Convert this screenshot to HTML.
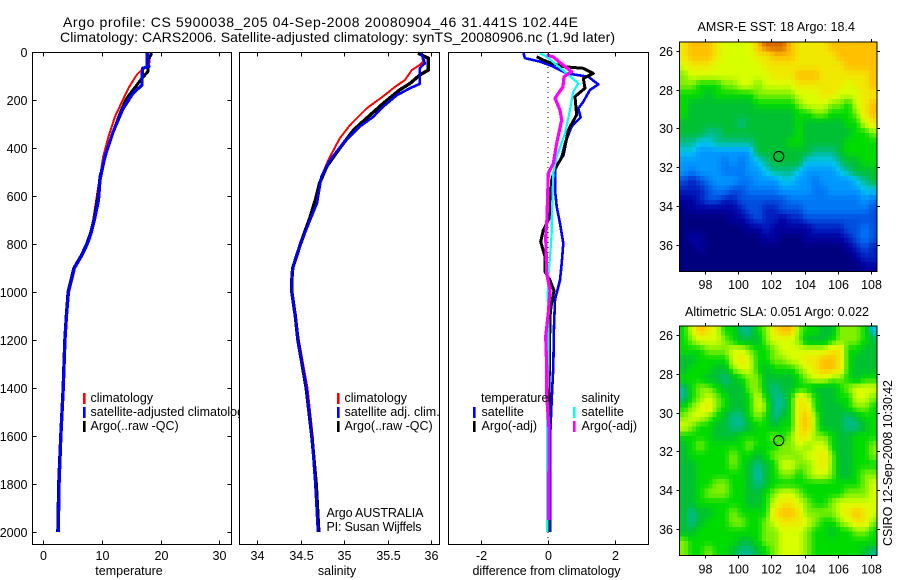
<!DOCTYPE html>
<html lang="en">
<head>
<meta charset="utf-8">
<title>Argo profile CS 5900038_205</title>
<style>
html,body{margin:0;padding:0;background:#fff;width:900px;height:580px;overflow:hidden}
svg{display:block}
text{font-family:"Liberation Sans",sans-serif;fill:#000;font-size:12.5px}
.ttl{font-size:14px}
</style>
</head>
<body>
<svg id="fig" xmlns="http://www.w3.org/2000/svg" width="900" height="580" viewBox="0 0 900 580">
<rect width="900" height="580" fill="#fff"/>
<text class="ttl" x="63" y="27" textLength="515">Argo profile: CS 5900038_205 04-Sep-2008 20080904_46 31.441S 102.44E</text>
<text class="ttl" x="60" y="42" textLength="555">Climatology: CARS2006. Satellite-adjusted climatology: synTS_20080906.nc (1.9d later)</text>

<g id="p1">
<rect x="32.5" y="52.5" width="199" height="492" fill="#fff"/>
<g id="p1-marks"></g>
<rect x="32.5" y="52.5" width="199" height="492" fill="none" stroke="#000"/>
<g id="p1-ticks"></g>
<text x="129" y="575" text-anchor="middle">temperature</text>
<g>
<rect x="83" y="393" width="2.6" height="11" fill="#ff0000"/>
<rect x="83" y="407" width="2.6" height="11" fill="#0000ff"/>
<rect x="83" y="421" width="2.6" height="11" fill="#000"/>
<text x="90.5" y="402">climatology</text>
<text x="90.5" y="416">satellite-adjusted climatology</text>
<text x="90.5" y="430">Argo(..raw -QC)</text>
</g>
</g>

<g id="p2">
<rect x="239.5" y="52.5" width="200" height="492" fill="#fff"/>
<g id="p2-marks"></g>
<rect x="239.5" y="52.5" width="200" height="492" fill="none" stroke="#000"/>
<g id="p2-ticks"></g>
<text x="337" y="575" text-anchor="middle">salinity</text>
<g>
<rect x="337" y="393" width="2.6" height="11" fill="#ff0000"/>
<rect x="337" y="407" width="2.6" height="11" fill="#0000ff"/>
<rect x="337" y="421" width="2.6" height="11" fill="#000"/>
<text x="344.5" y="402">climatology</text>
<text x="344.5" y="416">satellite adj. clim.</text>
<text x="344.5" y="430">Argo(..raw -QC)</text>
</g>
<text x="326.5" y="517" textLength="97">Argo AUSTRALIA</text>
<text x="326.5" y="531" textLength="95">PI: Susan Wijffels</text>
</g>

<g id="p3">
<rect x="448.5" y="52.5" width="200" height="492" fill="#fff"/>
<g id="p3-marks"></g>
<rect x="448.5" y="52.5" width="200" height="492" fill="none" stroke="#000"/>
<g id="p3-ticks"></g>
<text x="546.5" y="575" text-anchor="middle" textLength="148">difference from climatology</text>
<g>
<text x="481" y="402">temperature</text>
<text x="581.5" y="402">salinity</text>
<rect x="473" y="407" width="2.6" height="11" fill="#0000ff"/>
<rect x="473" y="421" width="2.6" height="11" fill="#000"/>
<rect x="573" y="407" width="2.6" height="11" fill="#00ffff"/>
<rect x="573" y="421" width="2.6" height="11" fill="#ff00ff"/>
<text x="481.5" y="416">satellite</text>
<text x="481.5" y="430">Argo(-adj)</text>
<text x="581.5" y="416">satellite</text>
<text x="581.5" y="430">Argo(-adj)</text>
</g>
</g>

<text x="697.5" y="31" textLength="157.5">AMSR-E SST: 18  Argo: 18.4</text>
<g id="m1"></g>
<text x="685" y="316" textLength="184">Altimetric SLA: 0.051  Argo: 0.022</text>
<g id="m2"></g>
<text transform="translate(892 546) rotate(-90)" x="0" y="0" textLength="166">CSIRO 12-Sep-2008 10:30:42</text>
</svg>

<script>
// ---- profile data (depth in m) ----
const depthTicks = [0,200,400,600,800,1000,1200,1400,1600,1800,2000];
const tempTicks = [0,10,20,30];
const salTicks = [34,34.5,35,35.5,36];
const salTickLabels = ['34','34.5','35','35.5','36'];
const diffTicks = [-2,0,2];

const tempClimDepth = [0,54,68,96,151,270,353,436,520,603,700,750,800,850,900,950,1000,1100,1200,1400,1600,1800,2000];
const tempClimValue = [18.3,18.0,17.0,15.9,14.5,12.2,11.1,10.2,9.66,9.1,8.5,8.0,7.3,6.3,5.2,4.7,4.2,3.9,3.7,3.45,3.05,2.72,2.6];
const tempArgoDepth = [5,33,82,110,158,193,235,332,422,520,603,700,750,800,850,900,950,1000,1100,1200,1400,1600,1800,2000];
const tempArgoValue = [18.5,17.8,17.8,16.8,15.3,14.2,13.4,11.9,10.7,9.66,9.3,8.6,8.1,7.4,6.4,5.2,4.7,4.2,3.9,3.65,3.35,2.95,2.6,2.45];
const tempSatDepth = [0,54,60,68,138,172,235,332,436,533,617,700,750,800,850,900,950,1000,1100,1200,1400,1600,1800,2000];
const tempSatValue = [17.7,17.7,18,16.9,16.8,15.3,13.6,11.9,10.5,9.66,9.4,8.7,8.2,7.5,6.5,5.3,4.8,4.3,3.95,3.7,3.4,3.0,2.7,2.55];

const salClimDepth = [0,40,54,75,117,144,179,235,304,360,450,519,603,700,800,900,950,1000,1100,1200,1400,1600,1800,2000];
const salClimValue = [35.89,35.91,35.87,35.78,35.70,35.59,35.47,35.26,35.07,34.95,34.82,34.74,34.69,34.59,34.49,34.41,34.40,34.40,34.44,34.48,34.58,34.64,34.68,34.71];
const salArgoDepth = [5,26,75,96,131,158,214,276,325,401,478,547,617,700,800,900,950,1000,1100,1200,1400,1600,1800,2000];
const salArgoValue = [35.85,35.97,35.97,35.87,35.76,35.64,35.45,35.26,35.11,34.95,34.80,34.72,34.67,34.60,34.50,34.41,34.40,34.40,34.44,34.47,34.565,34.63,34.68,34.71];
const salSatDepth = [5,47,68,133,151,179,228,269,311,380,450,519,630,692,800,900,950,1000,1100,1200,1400,1600,1800,2000];
const salSatValue = [35.89,35.93,35.87,35.87,35.76,35.61,35.45,35.34,35.18,34.99,34.84,34.74,34.69,34.62,34.50,34.41,34.40,34.40,34.44,34.47,34.57,34.63,34.67,34.70];

const diffTempSatDepth = [5,26,40,61,89,103,135,158,207,235,272,311,380,436,492,575,644,714,797,881,950,1033,1144,1311,1450,1617,2000];
const diffTempSatValue = [-0.74,-0.69,-0.24,0.16,0.56,1.21,1.51,1.26,1.06,0.91,0.98,0.71,0.51,0.41,0.21,0.21,0.26,0.36,0.46,0.41,0.36,0.21,0.18,0.16,0.11,0.06,0.06];
const diffTempArgoDepth = [20,40,61,68,89,110,151,186,262,325,429,485,533,692,742,790,853,915,944,994,1061,1103,1311,1600,2000];
const diffTempArgoValue = [-0.34,-0.04,0.45,1.05,1.36,1.06,1.11,0.81,0.86,0.61,0.46,0.21,0.11,0.04,-0.14,-0.22,-0.09,-0.09,0.04,0.18,0.09,0.06,0.04,0.03,0.02];
const diffSalSatDepth = [5,20,54,89,131,165,242,339,436,505,700,756,853,937,1020,1089,1311,1450,2000];
const diffSalSatValue = [-0.24,-0.04,0.26,0.56,0.91,0.76,0.66,0.51,0.26,0.16,0.11,0.11,0.06,0.01,-0.01,0.01,0.01,-0.02,-0.02];
const diffSalArgoDepth = [12,20,54,82,103,144,193,242,283,380,464,505,692,769,922,992,1089,1186,1311,1430,1570,1950];
const diffSalArgoValue = [-0.04,0.15,0.45,0.71,0.48,0.45,0.21,0.36,0.41,0.26,0.16,0.01,-0.03,-0.07,-0.04,0.06,0.01,-0.07,-0.04,-0.04,0.03,0.02];
const zeroLineDepth = [0,2040];

// ---- map data: colour level per half-degree cell ----
const mapLonTicks = [98,100,102,104,106,108];
const mapLatTicks = [26,28,30,32,34,36];
const floatLon = [102.44];
const floatLat = [31.441];
const sstLevels = [
[12,13,13,13,12,11,11,11,11,13,14,14,14,13,12,12,12,12,13,13,13,13,13,13],
[12,13,13,13,12,11,11,11,11,12,12,13,13,13,12,12,12,12,12,13,13,13,13,13],
[11,12,12,12,11,11,11,11,11,11,12,12,12,12,12,12,12,12,12,12,13,13,13,13],
[10,11,11,11,11,11,11,11,11,11,11,12,12,12,13,13,13,12,12,12,12,12,12,13],
[10,10,9,9,9,10,10,11,11,10,11,11,11,11,12,12,12,12,12,12,11,12,12,13],
[9,9,9,8,9,9,9,9,9,10,10,10,10,10,11,11,11,12,12,11,11,11,12,12],
[9,8,8,8,8,8,8,8,8,9,9,9,9,9,10,11,11,11,10,10,9,11,12,13],
[9,8,8,8,8,8,8,8,8,8,8,8,8,8,9,9,10,10,9,9,9,10,12,13],
[8,8,8,8,8,8,8,7,8,8,8,8,8,8,9,8,8,8,8,8,9,9,11,12],
[8,8,8,7,7,8,8,8,8,8,8,8,8,8,9,8,8,8,8,8,8,9,9,10],
[7,7,6,6,7,7,7,7,7,8,8,8,8,9,9,8,8,8,8,8,9,9,9,9],
[6,6,5,5,5,5,5,5,5,8,8,8,8,8,8,8,7,7,7,8,9,9,9,9],
[5,5,5,5,5,4,5,4,5,6,7,8,8,8,8,6,6,6,6,7,8,8,9,9],
[5,4,5,5,5,4,4,4,5,5,6,7,7,7,6,5,5,5,5,6,7,8,8,8],
[3,2,3,4,5,5,5,4,4,5,5,5,6,6,5,5,4,5,5,5,5,6,7,8],
[2,2,2,3,4,4,3,3,4,4,4,4,5,5,5,5,4,4,5,5,5,5,6,6],
[1,1,2,3,3,2,2,3,3,3,3,3,3,4,4,4,4,4,4,4,4,4,5,4],
[0,1,1,1,1,1,1,2,3,3,2,2,3,3,3,4,4,4,4,4,4,4,4,3],
[0,0,0,0,0,0,1,1,2,3,2,2,1,2,2,3,3,3,3,3,3,3,3,3],
[0,0,0,0,0,0,0,0,1,1,2,1,1,1,1,1,2,2,2,2,3,3,4,3],
[0,1,1,0,0,0,0,0,0,0,1,1,0,0,0,1,1,1,1,1,2,3,4,3],
[0,0,1,0,0,0,0,0,0,0,0,0,0,0,0,0,0,0,0,0,1,2,3,2],
[0,0,0,0,0,0,0,0,0,0,0,0,0,0,0,0,0,0,0,0,0,1,2,2],
[0,0,0,0,0,0,0,0,0,0,0,0,0,0,0,0,0,0,0,0,0,0,1,1]
];
const slaLevels = [
[9,11,13,12,11,9,9,7,7,9,10,12,13,13,10,9,9,8,8,10,10,10,9,6],
[9,10,11,11,11,10,9,8,8,8,10,11,11,11,10,8,8,8,9,10,10,10,9,8],
[9,9,9,10,10,10,11,11,10,9,9,10,11,11,11,11,11,11,12,12,9,9,8,8],
[8,8,9,9,9,9,11,12,11,9,9,10,10,11,11,12,12,13,13,12,9,8,8,8],
[8,9,9,9,8,8,10,11,11,9,8,9,9,9,10,11,12,13,13,12,9,8,8,8],
[9,9,9,8,8,7,8,9,10,10,8,8,8,8,9,10,11,11,10,10,9,8,9,9],
[7,9,10,10,9,8,8,8,10,10,8,7,8,8,9,9,8,8,8,9,10,11,11,11],
[7,9,10,11,10,9,8,8,9,11,9,7,7,9,12,11,9,8,8,9,9,11,11,10],
[9,10,11,12,10,9,8,8,9,11,10,7,7,9,12,12,9,8,8,8,9,10,10,9],
[10,11,11,10,9,8,7,7,9,10,9,7,8,9,12,13,10,8,8,8,7,8,9,9],
[11,10,9,9,8,8,7,7,8,9,9,8,9,9,12,13,10,8,8,8,7,7,8,9],
[9,9,9,9,8,8,8,9,9,9,9,10,9,10,12,12,10,10,9,8,8,9,9,9],
[8,9,10,9,9,9,9,9,10,9,9,9,10,10,11,10,11,11,9,8,8,9,9,10],
[8,9,9,9,9,9,10,9,9,8,9,10,10,10,10,11,11,12,10,8,8,9,9,10],
[8,8,9,9,9,9,10,9,8,7,8,9,11,11,10,10,11,12,10,8,8,9,9,9],
[8,8,9,9,9,9,9,9,8,6.5,8,9,10,10,9,10,11,11,10,8,8,9,10,10],
[8,8,9,9,10,10,9,9,8,7,8,9,9,9,9,9,9,9,9,9,9,9,10,11],
[8,8,9,10,10,10,9,9,8,8,9,10,11,11,10,9,9,9,9,9,10,10,10,11],
[8,8,9,9,9,9,9,9,8,8,9,11,12,12,11,10,9,9,10,11,11,11,11,11],
[8,7,8,8,9,9,10,9,9,9,9,12,13,13,12,10,10,10,10,11,12,13,12,11],
[8,7,8,9,9,9,10,10,9,9,10,11,12,12,12,11,10,9,9,10,11,12,12,10],
[8,8,9,9,9,9,9,9,9,9,10,10,11,11,11,10,9,9,8,9,9,10,10,9],
[10,9,9,9,9,9,9,8,8,9,10,10,11,11,11,10,9,9,9,9,9,9,9,9],
[10,9,9,10,9,9,8,7,7,8,9,10,11,11,11,10,9,9,9,9,9,9,8,7]
];
const levelColors = ['#00007f','#0000a0','#0020c0','#0050e0','#0078f5','#0098ff','#00c4f0','#00bc8c','#00c034','#00dc00','#80f000','#d8ff00','#f0e800','#ffc000','#d86800'];

// ---- axis functions ----
const NS = 'http://www.w3.org/2000/svg';
const yDepth = d => 52 + d * 0.24;
const xTemp = t => 43.3 + t * 5.87;
const xSal = s => 257 + (s - 34) * 87;
const xDiff = v => 548 + v * 33.3;
const xLon = lon => 705.3 + (lon - 98) * 16.54;
const yLat1 = lat => 50.7 + (lat - 26) * 19.43;
const yLat2 = lat => 335 + (lat - 26) * 19.4;

function make(tag, parent, attrs) {
  const el = document.createElementNS(NS, tag);
  for (const k in attrs) el.setAttribute(k, attrs[k]);
  parent.appendChild(el);
  return el;
}
function profile(parentId, xf, depths, values, color, width) {
  const pts = depths.map((d, i) => xf(values[i]).toFixed(1) + ',' + yDepth(d).toFixed(1)).join(' ');
  return make('polyline', document.getElementById(parentId), {points: pts, fill: 'none', stroke: color, 'stroke-width': width, 'stroke-linejoin': 'round', 'shape-rendering': 'crispEdges'});
}
function tickLine(parent, x1, y1, x2, y2) {
  const el = make('line', parent, {x1: x1, y1: y1, x2: x2, y2: y2, stroke: '#000', 'stroke-width': 1, 'shape-rendering': 'crispEdges'});
  
  
  return el;
}
function tickText(parent, x, y, anchor, str) {
  const el = make('text', parent, {x: x, y: y, 'text-anchor': anchor});
  el.textContent = str;
  
  
  return el;
}
function xAxis(parentId, xf, ticks, labels) {
  const g = document.getElementById(parentId);
  ticks.forEach((t, i) => {
    const x = Math.round(xf(t)) + 0.5;
    tickLine(g, x, 52.5, x, 56.5);
    tickLine(g, x, 540.5, x, 544.5);
    tickText(g, x, 560, 'middle', labels[i]);
  });
}

// ---- temperature panel ----
let line;
line = profile('p1-marks', xTemp, tempClimDepth, tempClimValue, '#ff0000', 2);


line = profile('p1-marks', xTemp, tempArgoDepth, tempArgoValue, '#000000', 3);


line = profile('p1-marks', xTemp, tempSatDepth, tempSatValue, '#0000ff', 3.2);


xAxis('p1-ticks', xTemp, tempTicks, tempTicks.map(String));
depthTicks.forEach(d => {
  const g = document.getElementById('p1-ticks');
  const y = Math.round(yDepth(d)) + 0.5;
  tickLine(g, 32.5, y, 36.5, y);
  tickLine(g, 227.5, y, 231.5, y);
  tickText(g, 27.5, y + 4.5, 'end', String(d));
});

// ---- salinity panel ----
line = profile('p2-marks', xSal, salClimDepth, salClimValue, '#ff0000', 2);


line = profile('p2-marks', xSal, salArgoDepth, salArgoValue, '#000000', 3.4);


line = profile('p2-marks', xSal, salSatDepth, salSatValue, '#0000ff', 2.6);


xAxis('p2-ticks', xSal, salTicks, salTickLabels);

// ---- difference panel ----
line = make('line', document.getElementById('p3-marks'), {x1: xDiff(0), x2: xDiff(0), y1: yDepth(zeroLineDepth[0]), y2: yDepth(zeroLineDepth[1]), stroke: '#000', 'stroke-width': 1, 'stroke-dasharray': '1 4', 'shape-rendering': 'crispEdges'});


line = profile('p3-marks', xDiff, diffTempSatDepth, diffTempSatValue, '#0000ff', 2.6);


line = profile('p3-marks', xDiff, diffTempArgoDepth, diffTempArgoValue, '#000000', 3);


line = profile('p3-marks', xDiff, diffSalSatDepth, diffSalSatValue, '#00ffff', 2.2);


line = profile('p3-marks', xDiff, diffSalArgoDepth, diffSalArgoValue, '#ff00ff', 3.2);


xAxis('p3-ticks', xDiff, diffTicks, diffTicks.map(String));

// ---- maps ----
function hexToRgb(h) {
  return [parseInt(h.slice(1, 3), 16), parseInt(h.slice(3, 5), 16), parseInt(h.slice(5, 7), 16)];
}
function levelColor(v) {
  const lo = Math.max(0, Math.min(levelColors.length - 1, Math.floor(v)));
  const hi = Math.min(levelColors.length - 1, lo + 1);
  const f = v - lo;
  const a = hexToRgb(levelColors[lo]), b = hexToRgb(levelColors[hi]);
  return 'rgb(' + a.map((c, i) => Math.round(c + (b[i] - c) * f)).join(',') + ')';
}
// Each half-degree value is shown as 2x2 quarter-degree pixels, shaded towards its neighbours,
// which is how the source product appears on screen.
function sampleLevel(levels, rf, cf) {
  const nr = levels.length, nc = levels[0].length;
  const r0 = Math.max(0, Math.floor(rf)), c0 = Math.max(0, Math.floor(cf));
  const r1 = Math.min(nr - 1, r0 + 1), c1 = Math.min(nc - 1, c0 + 1);
  const fr = Math.max(0, rf - r0), fc = Math.max(0, cf - c0);
  return (levels[r0][c0] * (1 - fc) + levels[r0][c1] * fc) * (1 - fr) + (levels[r1][c0] * (1 - fc) + levels[r1][c1] * fc) * fr;
}
function drawMap(parentId, levels, yLat, labelBase) {
  const g = document.getElementById(parentId);
  const lon0 = 96.45, dLon = 0.4975 / 2, lat0 = 25.54, dLat = 11.83 / 48;
  const rows = levels.length * 2, cols = levels[0].length * 2;
  for (let r = 0; r < rows; r++) {
    for (let c = 0; c < cols; c++) {
      const x0 = xLon(lon0 + c * dLon), x1 = xLon(lon0 + (c + 1) * dLon);
      const y0 = yLat(lat0 + r * dLat), y1 = yLat(lat0 + (r + 1) * dLat);
      const v = sampleLevel(levels, (r + 0.5) / 2 - 0.5, (c + 0.5) / 2 - 0.5);
      const cell = make('rect', g, {x: x0.toFixed(2), y: y0.toFixed(2), width: (x1 - x0 + 0.4).toFixed(2), height: (y1 - y0 + 0.4).toFixed(2), fill: levelColor(v), 'shape-rendering': 'crispEdges'});
      
      
    }
  }
  const left = xLon(lon0), right = xLon(lon0 + cols * dLon), top = yLat(lat0), bottom = yLat(lat0 + rows * dLat);
  const frame = make('rect', g, {x: left, y: top, width: right - left, height: bottom - top, fill: 'none', stroke: '#000', 'stroke-width': 1, 'shape-rendering': 'crispEdges'});
  
  
  mapLonTicks.forEach(lon => {
    const x = Math.round(xLon(lon)) + 0.5;
    tickLine(g, x, top - 3, x, top);
    tickLine(g, x, bottom, x, bottom + 3);
    tickText(g, x, labelBase, 'middle', String(lon));
  });
  mapLatTicks.forEach(lat => {
    const y = Math.round(yLat(lat)) + 0.5;
    tickLine(g, left - 3, y, left, y);
    tickLine(g, right, y, right + 3, y);
    tickText(g, 673, y + 4.5, 'end', String(lat));
  });
  const dot = make('circle', g, {cx: xLon(floatLon[0]), cy: yLat(floatLat[0]), r: 5, fill: 'none', stroke: '#000', 'stroke-width': 1.1});
  
  
}
drawMap('m1', sstLevels, yLat1, 289);
drawMap('m2', slaLevels, yLat2, 573.5);
</script>
</body>
</html>
